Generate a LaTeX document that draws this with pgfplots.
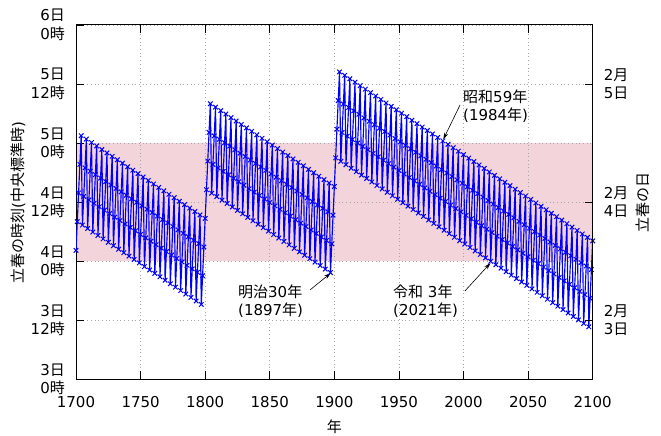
\documentclass[border=0pt]{standalone}
\usepackage{fontspec}
\setmainfont{DejaVu Sans}
\newfontfamily\jp{Noto Sans CJK JP}
\newcommand\J[1]{{\jp #1}}
\usepackage{pgfplots}
\pgfplotsset{compat=1.18}
\usetikzlibrary{arrows.meta}
\definecolor{band}{RGB}{242,212,218}

\begin{document}
\fontsize{15bp}{18.5bp}\selectfont
\begin{tikzpicture}
\begin{axis}[
    set layers,
    width=516.7bp, height=354.3bp, scale only axis,
    xmin=1700, xmax=2100, ymin=3, ymax=6,
    xtick={1700,1750,...,2100},
    xticklabels={1700,1750,1800,1850,1900,1950,2000,2050,2100},
    ytick={3,3.5,...,6},
    yticklabels={{3\J{日}\\0\J{時}},{3\J{日}\\12\J{時}},{4\J{日}\\0\J{時}},{4\J{日}\\12\J{時}},
                 {5\J{日}\\0\J{時}},{5\J{日}\\12\J{時}},{6\J{日}\\0\J{時}}},
    ytick pos=left,
    tick align=inside,
    major tick length=8bp,
    grid=major,
    grid style={dash pattern=on 0.9bp off 2.8bp, black!35, line width=0.8bp},
    tick style={black, line width=0.8bp},
    axis line style={line width=1bp},
    xticklabel style={yshift=-12bp},
    yticklabel style={align=right, xshift=-6bp},
    xlabel={\J{年}},
    xlabel style={at={(axis description cs:0.5,-0.1346)}, anchor=center},
    ylabel={\J{立春の時刻}(\J{中央標準時})},
    ylabel style={at={(axis description cs:-0.1123,0.5)}, anchor=center},
]
% band: 2/4 (JST)
\addplot[draw=none, fill=band, on layer=axis background] coordinates {(1700,4) (2100,4) (2100,5) (1700,5)} -- cycle;

\addplot[blue, line width=1.15bp, mark=x, mark size=3.2bp, mark options={line width=1bp}] coordinates {
(1700,4.092) (1701,4.335) (1702,4.578) (1703,4.820) (1704,5.063)
(1705,4.306) (1706,4.549) (1707,4.791) (1708,5.034)
(1709,4.277) (1710,4.519) (1711,4.762) (1712,5.005)
(1713,4.247) (1714,4.490) (1715,4.733) (1716,4.976)
(1717,4.218) (1718,4.461) (1719,4.704) (1720,4.946)
(1721,4.189) (1722,4.432) (1723,4.674) (1724,4.917)
(1725,4.160) (1726,4.403) (1727,4.645) (1728,4.888)
(1729,4.131) (1730,4.373) (1731,4.616) (1732,4.859)
(1733,4.101) (1734,4.344) (1735,4.587) (1736,4.830)
(1737,4.072) (1738,4.315) (1739,4.558) (1740,4.800)
(1741,4.043) (1742,4.286) (1743,4.528) (1744,4.771)
(1745,4.014) (1746,4.257) (1747,4.499) (1748,4.742)
(1749,3.985) (1750,4.227) (1751,4.470) (1752,4.713)
(1753,3.955) (1754,4.198) (1755,4.441) (1756,4.684)
(1757,3.926) (1758,4.169) (1759,4.412) (1760,4.654)
(1761,3.897) (1762,4.140) (1763,4.382) (1764,4.625)
(1765,3.868) (1766,4.111) (1767,4.353) (1768,4.596)
(1769,3.839) (1770,4.081) (1771,4.324) (1772,4.567)
(1773,3.809) (1774,4.052) (1775,4.295) (1776,4.538)
(1777,3.780) (1778,4.023) (1779,4.266) (1780,4.508)
(1781,3.751) (1782,3.994) (1783,4.236) (1784,4.479)
(1785,3.722) (1786,3.965) (1787,4.207) (1788,4.450)
(1789,3.693) (1790,3.935) (1791,4.178) (1792,4.421)
(1793,3.663) (1794,3.906) (1795,4.149) (1796,4.392)
(1797,3.634) (1798,3.877) (1799,4.120) (1800,4.362)
(1801,4.605) (1802,4.848) (1803,5.090) (1804,5.333)
(1805,4.576) (1806,4.819) (1807,5.061) (1808,5.304)
(1809,4.547) (1810,4.789) (1811,5.032) (1812,5.275)
(1813,4.517) (1814,4.760) (1815,5.003) (1816,5.246)
(1817,4.488) (1818,4.731) (1819,4.974) (1820,5.216)
(1821,4.459) (1822,4.702) (1823,4.944) (1824,5.187)
(1825,4.430) (1826,4.673) (1827,4.915) (1828,5.158)
(1829,4.401) (1830,4.643) (1831,4.886) (1832,5.129)
(1833,4.371) (1834,4.614) (1835,4.857) (1836,5.100)
(1837,4.342) (1838,4.585) (1839,4.828) (1840,5.070)
(1841,4.313) (1842,4.556) (1843,4.798) (1844,5.041)
(1845,4.284) (1846,4.527) (1847,4.769) (1848,5.012)
(1849,4.255) (1850,4.497) (1851,4.740) (1852,4.983)
(1853,4.225) (1854,4.468) (1855,4.711) (1856,4.954)
(1857,4.196) (1858,4.439) (1859,4.682) (1860,4.924)
(1861,4.167) (1862,4.410) (1863,4.652) (1864,4.895)
(1865,4.138) (1866,4.381) (1867,4.623) (1868,4.866)
(1869,4.109) (1870,4.351) (1871,4.594) (1872,4.837)
(1873,4.079) (1874,4.322) (1875,4.565) (1876,4.808)
(1877,4.050) (1878,4.293) (1879,4.536) (1880,4.778)
(1881,4.021) (1882,4.264) (1883,4.506) (1884,4.749)
(1885,3.992) (1886,4.235) (1887,4.477) (1888,4.720)
(1889,3.963) (1890,4.205) (1891,4.448) (1892,4.691)
(1893,3.933) (1894,4.176) (1895,4.419) (1896,4.662)
(1897,3.904) (1898,4.147) (1899,4.390) (1900,4.632)
(1901,4.875) (1902,5.118) (1903,5.360) (1904,5.603)
(1905,4.846) (1906,5.089) (1907,5.331) (1908,5.574)
(1909,4.817) (1910,5.059) (1911,5.302) (1912,5.545)
(1913,4.787) (1914,5.030) (1915,5.273) (1916,5.516)
(1917,4.758) (1918,5.001) (1919,5.244) (1920,5.486)
(1921,4.729) (1922,4.972) (1923,5.214) (1924,5.457)
(1925,4.700) (1926,4.943) (1927,5.185) (1928,5.428)
(1929,4.671) (1930,4.913) (1931,5.156) (1932,5.399)
(1933,4.641) (1934,4.884) (1935,5.127) (1936,5.370)
(1937,4.612) (1938,4.855) (1939,5.098) (1940,5.340)
(1941,4.583) (1942,4.826) (1943,5.068) (1944,5.311)
(1945,4.554) (1946,4.797) (1947,5.039) (1948,5.282)
(1949,4.525) (1950,4.767) (1951,5.010) (1952,5.253)
(1953,4.495) (1954,4.738) (1955,4.981) (1956,5.224)
(1957,4.466) (1958,4.709) (1959,4.952) (1960,5.194)
(1961,4.437) (1962,4.680) (1963,4.922) (1964,5.165)
(1965,4.408) (1966,4.651) (1967,4.893) (1968,5.136)
(1969,4.379) (1970,4.621) (1971,4.864) (1972,5.107)
(1973,4.349) (1974,4.592) (1975,4.835) (1976,5.078)
(1977,4.320) (1978,4.563) (1979,4.806) (1980,5.048)
(1981,4.291) (1982,4.534) (1983,4.776) (1984,5.019)
(1985,4.262) (1986,4.505) (1987,4.747) (1988,4.990)
(1989,4.233) (1990,4.475) (1991,4.718) (1992,4.961)
(1993,4.203) (1994,4.446) (1995,4.689) (1996,4.932)
(1997,4.174) (1998,4.417) (1999,4.660) (2000,4.902)
(2001,4.145) (2002,4.388) (2003,4.630) (2004,4.873)
(2005,4.116) (2006,4.359) (2007,4.601) (2008,4.844)
(2009,4.087) (2010,4.329) (2011,4.572) (2012,4.815)
(2013,4.057) (2014,4.300) (2015,4.543) (2016,4.786)
(2017,4.028) (2018,4.271) (2019,4.514) (2020,4.756)
(2021,3.999) (2022,4.242) (2023,4.484) (2024,4.727)
(2025,3.970) (2026,4.212) (2027,4.455) (2028,4.698)
(2029,3.941) (2030,4.183) (2031,4.426) (2032,4.669)
(2033,3.911) (2034,4.154) (2035,4.397) (2036,4.640)
(2037,3.882) (2038,4.125) (2039,4.368) (2040,4.610)
(2041,3.853) (2042,4.096) (2043,4.338) (2044,4.581)
(2045,3.824) (2046,4.067) (2047,4.309) (2048,4.552)
(2049,3.795) (2050,4.037) (2051,4.280) (2052,4.523)
(2053,3.765) (2054,4.008) (2055,4.251) (2056,4.494)
(2057,3.736) (2058,3.979) (2059,4.222) (2060,4.464)
(2061,3.707) (2062,3.950) (2063,4.192) (2064,4.435)
(2065,3.678) (2066,3.921) (2067,4.163) (2068,4.406)
(2069,3.649) (2070,3.891) (2071,4.134) (2072,4.377)
(2073,3.619) (2074,3.862) (2075,4.105) (2076,4.348)
(2077,3.590) (2078,3.833) (2079,4.076) (2080,4.318)
(2081,3.561) (2082,3.804) (2083,4.046) (2084,4.289)
(2085,3.532) (2086,3.775) (2087,4.017) (2088,4.260)
(2089,3.503) (2090,3.745) (2091,3.988) (2092,4.231)
(2093,3.473) (2094,3.716) (2095,3.959) (2096,4.202)
(2097,3.444) (2098,3.687) (2099,3.930) (2100,4.172)
};

\node[anchor=west, align=left, inner sep=0pt] at (axis cs:1999.6,5.314) {\J{昭和}59\J{年}\\(1984\J{年})};
\draw[-{Stealth[length=7bp,width=4bp]}, line width=0.6bp] (axis cs:1997.3,5.323) -- (axis cs:1984.3,5.03);
\node[anchor=west, align=left, inner sep=0pt] at (axis cs:1945.4,3.663) {\J{令和} 3\J{年}\\(2021\J{年})};
\draw[-{Stealth[length=7bp,width=4bp]}, line width=0.6bp] (axis cs:2001.1,3.748) -- (axis cs:2020.9,3.985);
\node[anchor=west, align=left, inner sep=0pt] at (axis cs:1825.4,3.663) {\J{明治}30\J{年}\\(1897\J{年})};
\draw[-{Stealth[length=7bp,width=4bp]}, line width=0.6bp] (axis cs:1881.2,3.757) -- (axis cs:1897.3,3.9);
\end{axis}

\begin{axis}[
    width=516.7bp, height=354.3bp, scale only axis,
    xmin=1700, xmax=2100, ymin=3, ymax=6,
    hide x axis, axis y line*=right,
    ytick={3.5,4.5,5.5},
    yticklabels={{2\J{月}\\3\J{日}},{2\J{月}\\4\J{日}},{2\J{月}\\5\J{日}}},
    tick align=inside,
    major tick length=8bp,
    tick style={black, line width=0.8bp},
    axis line style={line width=1bp},
    yticklabel style={align=left, xshift=6bp},
    ylabel={\J{立春の日}},
    ylabel style={at={(axis description cs:1.0973,0.5)}, anchor=center},
]
\addplot[draw=none, mark=none, forget plot] coordinates {(1700,3) (2100,6)};
\end{axis}
\pgfresetboundingbox
\path[use as bounding box] (-76bp,-56.7bp) rectangle (585bp,379.3bp);
\end{tikzpicture}
\end{document}
